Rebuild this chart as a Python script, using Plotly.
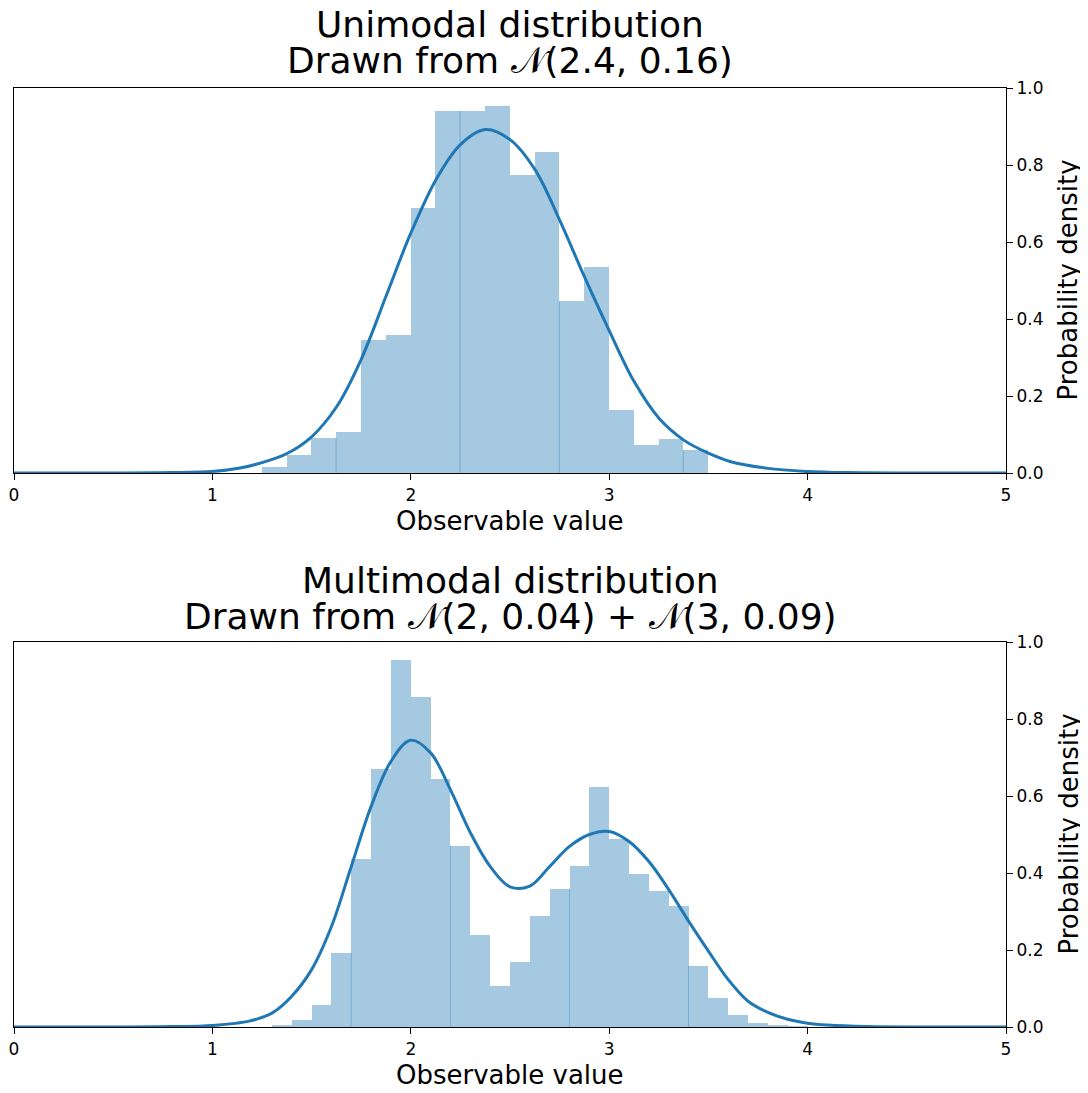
import plotly.graph_objects as go

# ---------------- data ----------------
# Unimodal histogram (density per bin)
uni_bin_start = 1.2485
uni_bin_width = 0.125
uni_density = [0.0147, 0.0459, 0.090, 0.1056, 0.3446, 0.3576, 0.6874, 0.941, 0.941,
               0.954, 0.775, 0.835, 0.4476, 0.536, 0.1645, 0.0736, 0.0892, 0.0589]
uni_kde_x = [0.0, 0.5, 0.8, 1.0, 1.139, 1.25, 1.374, 1.50, 1.626, 1.749, 1.875, 2.0, 2.127,
             2.25, 2.376, 2.5, 2.626, 2.752, 2.875, 3.0, 3.125, 3.251, 3.374, 3.497,
             3.609, 3.8, 4.0, 4.2, 4.5, 5.0]
uni_kde_y = [0.0, 0.0, 0.001, 0.004, 0.013, 0.027, 0.050, 0.094, 0.172, 0.294, 0.459, 0.623,
             0.762, 0.853, 0.892, 0.866, 0.788, 0.655, 0.510, 0.370, 0.238, 0.142, 0.086,
             0.052, 0.030, 0.012, 0.004, 0.001, 0.0, 0.0]
uni_seam_edges = [3, 8, 12, 17]

# Multimodal histogram
multi_bin_start = 1.3
multi_bin_width = 0.1
multi_density = [0.006, 0.019, 0.058, 0.193, 0.437, 0.671, 0.954, 0.858, 0.645, 0.471,
                 0.238, 0.107, 0.168, 0.289, 0.359, 0.419, 0.624, 0.489, 0.398, 0.354,
                 0.315, 0.159, 0.075, 0.031, 0.010, 0.005, 0.003]
multi_kde_x = [0.0, 0.5, 0.8, 1.0, 1.19, 1.30, 1.40, 1.50, 1.60, 1.70, 1.80, 1.90, 2.0,
               2.10, 2.20, 2.30, 2.40, 2.50, 2.60, 2.70, 2.80, 2.90, 3.0, 3.10,
               3.20, 3.30, 3.40, 3.50, 3.60, 3.70, 3.80, 3.90, 4.0, 4.1, 4.3, 4.6, 5.0]
multi_kde_y = [0.0, 0.0, 0.001, 0.004, 0.016, 0.036, 0.080, 0.149, 0.261, 0.417, 0.573,
               0.690, 0.745, 0.712, 0.616, 0.505, 0.417, 0.364, 0.366, 0.417, 0.469,
               0.500, 0.508, 0.482, 0.430, 0.357, 0.275, 0.197, 0.123, 0.067, 0.038, 0.020,
               0.010, 0.005, 0.001, 0.0, 0.0]
multi_seam_edges = [4, 9, 15, 21, 26]

x_ticks = [0, 1, 2, 3, 4, 5]
y_ticks = [0.0, 0.2, 0.4, 0.6, 0.8, 1.0]

titles = [("Unimodal distribution", "Drawn from 𝒩(2.4, 0.16)"),
          ("Multimodal distribution", "Drawn from 𝒩(2, 0.04) + 𝒩(3, 0.09)")]
x_label = "Observable value"
y_label = "Probability density"

# ---------------- figure ----------------
OFF = 8                      # page body margin offset
W, H = 1088 - OFF, 1093 - OFF
ML, MR = 14 - OFF, W - (1006 - OFF)
FONT = "DejaVu Sans"
BLUE = "#1f77b4"
BAR = "rgba(31,119,180,0.4)"
SEAM = "rgba(31,119,180,0.35)"

fig = go.Figure()

panels = [
    dict(start=uni_bin_start, width=uni_bin_width, dens=uni_density,
         kx=uni_kde_x, ky=uni_kde_y, seams=uni_seam_edges, top=88, bottom=473, suffix="",
         t1=24.5, t2=61),
    dict(start=multi_bin_start, width=multi_bin_width, dens=multi_density,
         kx=multi_kde_x, ky=multi_kde_y, seams=multi_seam_edges, top=642, bottom=1027, suffix="2",
         t1=580, t2=616),
]

def py(px):
    return 1 - (px - OFF) / H

def pxx(px):
    return (px - OFF - ML) / (W - ML - MR)

for i, p in enumerate(panels):
    xa = "x" + p["suffix"]
    ya = "y" + p["suffix"]
    n = len(p["dens"])
    centers = [p["start"] + p["width"] * (k + 0.5) for k in range(n)]
    fig.add_trace(go.Bar(x=centers, y=p["dens"], width=[p["width"]] * n,
                         marker=dict(color=BAR, line=dict(width=0)),
                         xaxis=xa, yaxis=ya, showlegend=False, hoverinfo="skip"))
    # faint seams between some bars (rendering artefact in original)
    sx, sy = [], []
    for k in p["seams"]:
        e = p["start"] + p["width"] * k
        h = min(p["dens"][k - 1], p["dens"][k])
        sx += [e, e, None]
        sy += [0, h, None]
    fig.add_trace(go.Scatter(x=sx, y=sy, mode="lines", line=dict(color=SEAM, width=1),
                             xaxis=xa, yaxis=ya, showlegend=False, hoverinfo="skip"))
    fig.add_trace(go.Scatter(x=p["kx"], y=p["ky"], mode="lines",
                             line=dict(color=BLUE, width=3, shape="spline", smoothing=1.0),
                             xaxis=xa, yaxis=ya, showlegend=False, hoverinfo="skip"))

    dom_y = [py(p["bottom"]), py(p["top"])]
    axis_common = dict(showline=True, linecolor="black", linewidth=1.3, mirror=True,
                       showgrid=False, zeroline=False, ticks="outside", ticklen=6,
                       tickwidth=1.2, tickcolor="black", automargin=False,
                       tickfont=dict(family=FONT, size=17, color="black"))
    fig.layout["xaxis" + p["suffix"]] = dict(
        domain=[0, 1], range=[0, 5], tickvals=x_ticks, anchor=ya, **axis_common)
    fig.layout["yaxis" + p["suffix"]] = dict(
        domain=dom_y, range=[0, 1], tickvals=y_ticks, tickformat=".1f", side="right",
        anchor=xa, **axis_common)

    # titles
    t1, t2 = titles[i]
    fig.add_annotation(text=t1, x=0.5, y=py(p["t1"]), xref="paper", yref="paper",
                       showarrow=False, xanchor="center", yanchor="middle",
                       font=dict(family=FONT, size=36, color="black"))
    fig.add_annotation(text=t2, x=0.5, y=py(p["t2"]), xref="paper", yref="paper",
                       showarrow=False, xanchor="center", yanchor="middle",
                       font=dict(family=FONT, size=36, color="black"))
    # axis labels
    fig.add_annotation(text=x_label, x=0.5, y=py(p["bottom"] + 48), xref="paper", yref="paper",
                       showarrow=False, xanchor="center", yanchor="middle",
                       font=dict(family=FONT, size=26, color="black"))
    fig.add_annotation(text=y_label, x=pxx(1068), y=py((p["top"] + p["bottom"]) / 2),
                       xref="paper", yref="paper", textangle=-90,
                       showarrow=False, xanchor="center", yanchor="middle",
                       font=dict(family=FONT, size=26, color="black"))

fig.update_layout(width=W, height=H, margin=dict(l=ML, r=MR, t=0, b=0, autoexpand=False),
                  paper_bgcolor="white", plot_bgcolor="white", bargap=0,
                  font=dict(family=FONT, color="black"))

fig.write_html("out.html")
